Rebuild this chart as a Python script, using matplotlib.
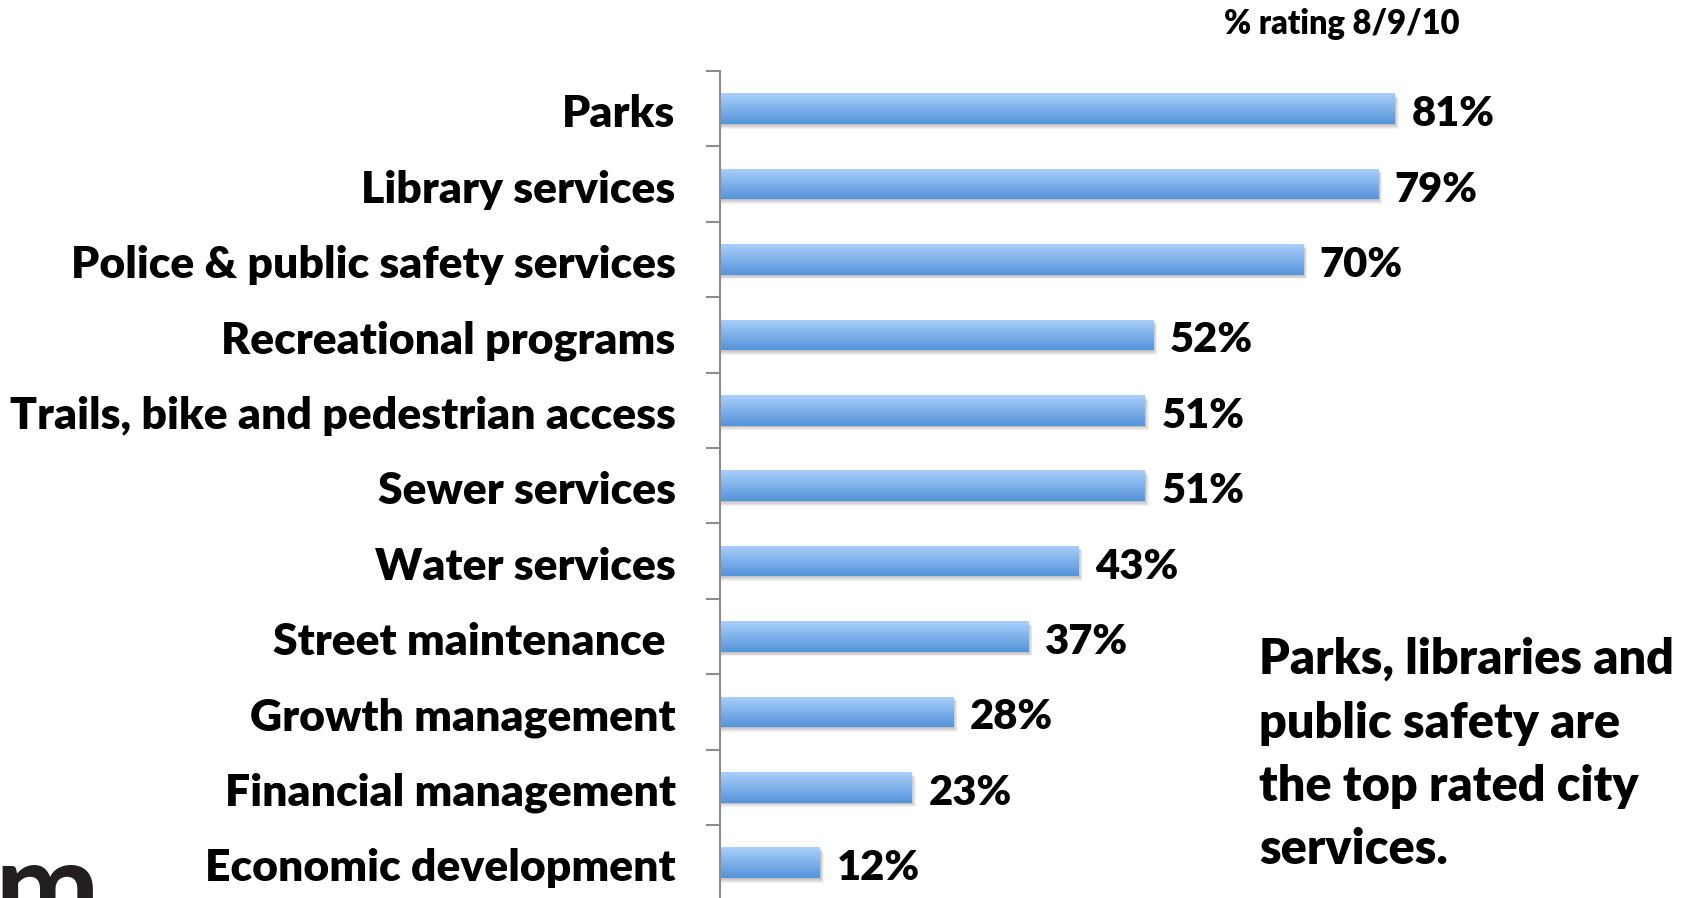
import numpy as np
import matplotlib
matplotlib.use("Agg")
import matplotlib.pyplot as plt
from matplotlib.colors import LinearSegmentedColormap
from matplotlib.patches import Rectangle

# data
services = ["Parks", "Library services", "Police & public safety services",
            "Recreational programs", "Trails, bike and pedestrian access",
            "Sewer services", "Water services", "Street maintenance ",
            "Growth management", "Financial management", "Economic development"]
ratings = [81, 79, 70, 52, 51, 51, 43, 37, 28, 23, 12]
title = "% rating 8/9/10"
note = "Parks, libraries and\npublic safety are\nthe top rated city\nservices."

plt.rcParams['font.family'] = ['Lato', 'DejaVu Sans']
plt.rcParams['font.weight'] = 'heavy'

W, H = 1690, 898
fig = plt.figure(figsize=(W / 100, H / 100), dpi=100)
# axes placed in pixel terms of the reference
ax = fig.add_axes([720 / W, 1 - 900.4 / H, 833 / W, 829.4 / H])

ypos = np.arange(len(services))
bar_h = 0.406
grey = '#8c8c8c'

grad = np.linspace(0, 1, 64).reshape(-1, 1)
cmap = LinearSegmentedColormap.from_list('bar', ['#aacffb', '#5494da'])

bars = ax.barh(ypos, ratings, height=bar_h, color='none', lw=0, zorder=2)
for b, y, v in zip(bars, ypos, ratings):
    # soft drop shadow
    for k in range(1, 6):
        ax.add_patch(Rectangle((0, y - bar_h / 2 + k * 0.012), v + k * 0.1, bar_h,
                               facecolor='k', alpha=0.05, lw=0, zorder=1))
    im = ax.imshow(grad, cmap=cmap, extent=(0, v, y + bar_h / 2, y - bar_h / 2),
                   aspect='auto', zorder=2, interpolation='bilinear')
    im.set_clip_path(b)
    ax.annotate(f"{v}%", (v, y), xytext=(12, -1.5), textcoords='offset points',
                va='center_baseline', ha='left', fontsize=30, color='black')

ax.set_xlim(0, 100)
ax.set_ylim(len(services) - 0.5, -0.5)
ax.set_yticks(ypos, services, fontsize=32)
ax.set_yticks(np.arange(-0.5, len(services), 1), minor=True)
ax.tick_params(axis='y', which='major', length=0, pad=32)
ax.tick_params(axis='y', which='minor', length=10, width=1.5, color=grey)
ax.set_xticks([])
for s in ['top', 'right', 'bottom']:
    ax.spines[s].set_visible(False)
ax.spines['left'].set_color(grey)
ax.spines['left'].set_linewidth(1.5)
for lbl in ax.get_yticklabels():
    lbl.set_va('center_baseline')
    lbl.set_y(lbl.get_position()[1])

# nudge category labels down a touch to match the reference baseline
import matplotlib.transforms as mtransforms
offset = mtransforms.ScaledTranslation(0, -2 / 100, fig.dpi_scale_trans)
for lbl in ax.get_yticklabels():
    lbl.set_transform(lbl.get_transform() + offset)

fig.text(1342 / W, 1 - 24 / H, title, ha='center', va='center', fontsize=23.5)
fig.text(1259 / W, 1 - 637 / H, note, ha='left', va='top', fontsize=35,
         linespacing=1.5)

# partial logo cut off at bottom-left
fig.text(-6 / W, 1 - 930 / H, "m", ha='left', va='baseline', fontsize=90,
         color='#231f20', fontfamily='Lato', fontweight='bold')

fig.savefig("out.png", dpi=100)
